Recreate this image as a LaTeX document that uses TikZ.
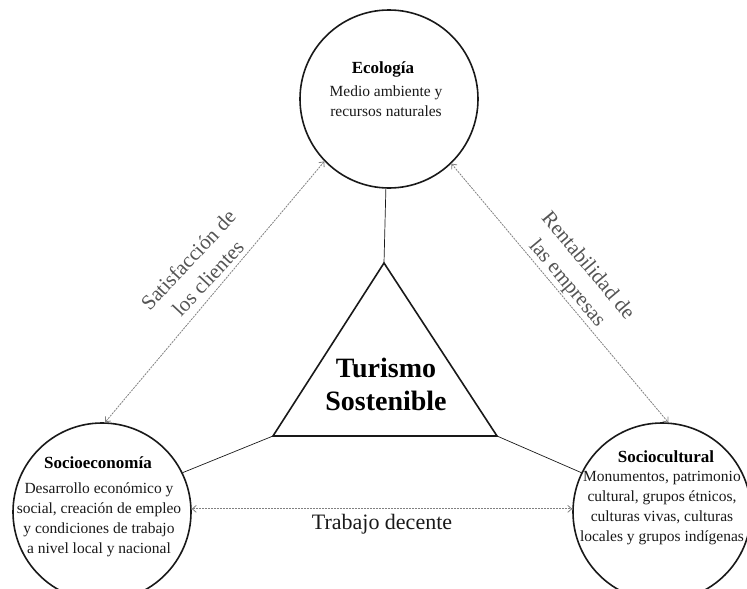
\documentclass[tikz,border=0pt]{standalone}
\usepackage{fontspec}
\setmainfont{Liberation Serif}
\usetikzlibrary{arrows.meta, positioning}
\definecolor{mainBlack}{gray}{0.1}
\definecolor{subGray}{gray}{0.5}
\definecolor{tagGray}{gray}{0.33}

\begin{document}
\begin{tikzpicture}[x=1pt, y=-1pt, >={Straight Barb[length=4pt, width=7pt]},
    area/.style={draw=mainBlack, line width=1.6pt, circle, minimum size=178pt, inner sep=0pt},
    link/.style={<->, subGray, dash pattern=on 2pt off 1pt, line width=0.8pt},
    body/.style={align=center, text=mainBlack, font=\fontsize{15.5}{20}\selectfont},
    head/.style={text=black, font=\fontsize{17}{20}\selectfont\bfseries},
    tag/.style={align=center, text=tagGray, font=\fontsize{21}{27}\selectfont}]
    \useasboundingbox (0,0) rectangle (747,589);

    \node[area] (eco) at (389,99) {};
    \node[area] (soc) at (102,512) {};
    \node[area] (cul) at (662,512) {};

    \coordinate (T) at (384,263);
    \coordinate (L) at (273,436);
    \coordinate (R) at (497,436);
    \draw[line width=1.6pt, mainBlack, line join=miter] (T)--(L)--(R)--cycle;
    \node[align=center, font=\fontsize{28}{33}\selectfont\bfseries] (ts) at (386,384) {Turismo\\ Sostenible};

    % texts in the circles
    \node[head] (ecoH) at (383,69) {Ecología};
    \node[body] (ecoB) at (386,101) {Medio ambiente y\\ recursos naturales};
    \node[head] (socH) at (98,463) {Socioeconomía};
    \node[body] (socB) at (99,520) {Desarrollo económico y\\ social, creación de empleo\\ y condiciones de trabajo\\ a nivel local y nacional};
    \node[head] (culH) at (666,457) {Sociocultural};
    \node[body] (culB) at (662,508) {Monumentos, patrimonio\\ cultural, grupos étnicos,\\ culturas vivas, culturas\\ locales y grupos indígenas};

    % links
    \draw[mainBlack, line width=0.7pt] (eco.268)--(T);
    \draw[mainBlack, line width=0.7pt] (L)--(soc.26);
    \draw[mainBlack, line width=0.7pt] (R)--(cul.154);

    \draw[link] (eco.224)--(soc.88);
    \draw[link] (eco.314)--(cul.86);
    \draw[link] (soc.2)--(cul.178) node[midway, below=2pt, tag, text=mainBlack, font=\fontsize{22}{26}\selectfont] (td) {Trabajo decente};

    \node[tag, rotate=47] (sat) at (198,269) {Satisfacción de\\ los clientes};
    \node[tag, rotate=-50] (ren) at (577,275) {Rentabilidad de\\ las empresas};
\end{tikzpicture}
\end{document}
